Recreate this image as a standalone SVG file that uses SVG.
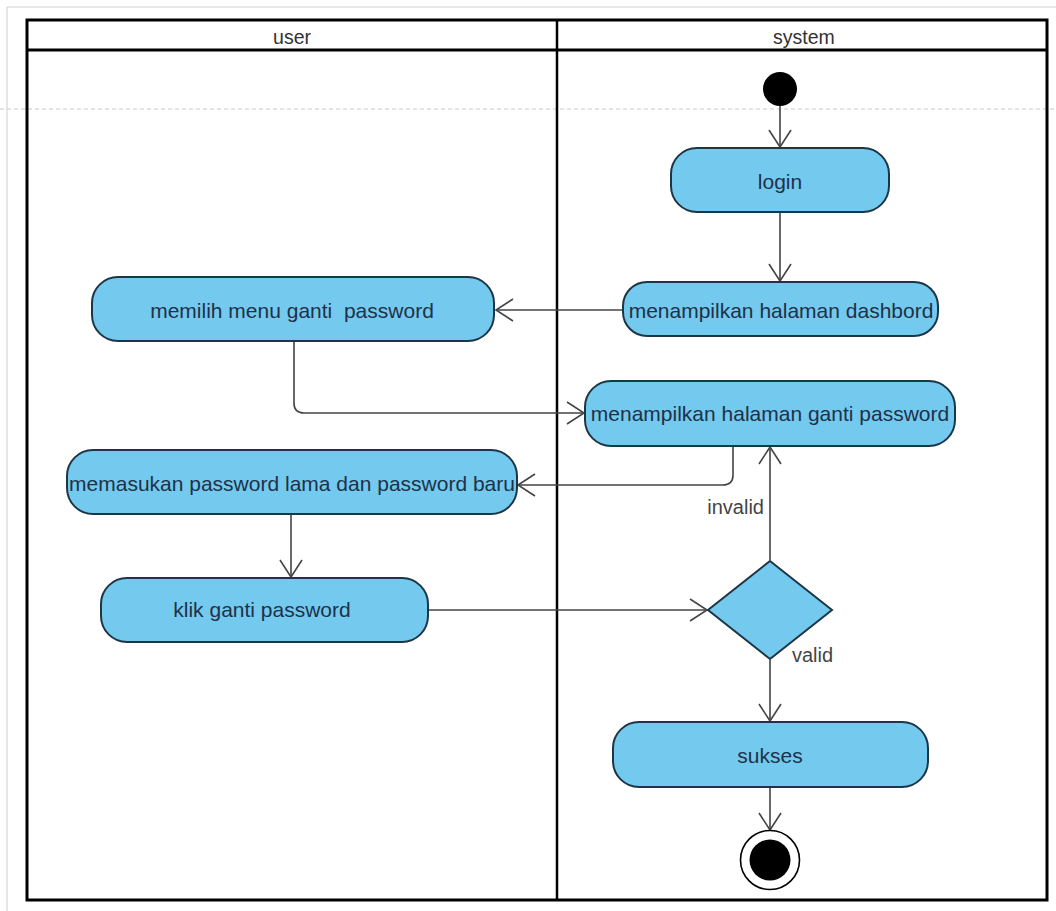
<svg xmlns="http://www.w3.org/2000/svg" width="1056" height="911" viewBox="0 0 1056 911">
<style>
.node{fill:#74C9EF;stroke:#1d3645;stroke-width:2}
.t{font-family:"Liberation Sans",Arial,sans-serif;font-size:21px;fill:#1e3248;text-anchor:middle;dominant-baseline:central}
.h{font-family:"Liberation Sans",Arial,sans-serif;font-size:19.5px;fill:#333;text-anchor:middle;dominant-baseline:central}
.lbl{font-family:"Liberation Sans",Arial,sans-serif;font-size:20px;fill:#444;dominant-baseline:central}
.c{fill:none;stroke:#444;stroke-width:1.6}
</style>
<defs>
<marker id="arr" markerUnits="userSpaceOnUse" markerWidth="20" markerHeight="26" viewBox="0 0 20 26" refX="18" refY="13" orient="auto">
<path d="M1,2 L18,13 L1,24" fill="none" stroke="#444" stroke-width="1.6"/>
</marker>
</defs>
<rect width="1056" height="911" fill="#fff"/>
<g id="frame">
<path d="M7,911 V7 H1056" fill="none" stroke="#d0d0d0" stroke-width="1"/>
<line x1="0" y1="109" x2="1056" y2="109" stroke="#c8c8c8" stroke-width="1" stroke-dasharray="4,3"/>
</g>
<g id="swimlanes">
<rect x="27" y="20" width="1020" height="880" fill="none" stroke="#000" stroke-width="3"/>
<line x1="27" y1="50" x2="1047" y2="50" stroke="#000" stroke-width="3"/>
<line x1="557" y1="20" x2="557" y2="900" stroke="#000" stroke-width="2.5"/>
<text class="h" x="292" y="37">user</text>
<text class="h" x="804" y="37">system</text>
</g>
<g id="connectors">
<line class="c" x1="780" y1="106" x2="780" y2="147" marker-end="url(#arr)"/>
<line class="c" x1="780" y1="212" x2="780" y2="281" marker-end="url(#arr)"/>
<line class="c" x1="623" y1="310" x2="496" y2="310" marker-end="url(#arr)"/>
<path class="c" d="M294,341 V403 Q294,413 304,413 H584" marker-end="url(#arr)"/>
<path class="c" d="M733,446 V475 Q733,485 723,485 H518" marker-end="url(#arr)"/>
<line class="c" x1="291" y1="514" x2="291" y2="577" marker-end="url(#arr)"/>
<line class="c" x1="428" y1="610" x2="707" y2="610" marker-end="url(#arr)"/>
<line class="c" x1="770" y1="560" x2="770" y2="447" marker-end="url(#arr)"/>
<line class="c" x1="770" y1="660" x2="770" y2="721" marker-end="url(#arr)"/>
<line class="c" x1="770" y1="787" x2="770" y2="830" marker-end="url(#arr)"/>
<text class="lbl" x="764" y="507" text-anchor="end">invalid</text>
<text class="lbl" x="792" y="655">valid</text>
</g>
<g id="start"><circle cx="780" cy="89" r="17" fill="#000"/></g>
<g id="login"><rect class="node" x="671" y="148" width="218" height="64" rx="26"/><text class="t" x="780" y="181">login</text></g>
<g id="dashboard"><rect class="node" x="623" y="282" width="315" height="54" rx="24"/><text class="t" x="781" y="310">menampilkan halaman dashbord</text></g>
<g id="memilih"><rect class="node" x="92" y="277" width="402" height="64" rx="26"/><text class="t" x="292" y="310" xml:space="preserve">memilih menu ganti  password</text></g>
<g id="gantiPassword"><rect class="node" x="585" y="381" width="370" height="65" rx="26"/><text class="t" x="770" y="413">menampilkan halaman ganti password</text></g>
<g id="memasukan"><rect class="node" x="67" y="450" width="450" height="64" rx="26"/><text class="t" x="292" y="483">memasukan password lama dan password baru</text></g>
<g id="klik"><rect class="node" x="101" y="578" width="327" height="64" rx="26"/><text class="t" x="262" y="609">klik ganti password</text></g>
<g id="decision"><polygon class="node" points="770,561 832,610 770,659 708,610"/></g>
<g id="sukses"><rect class="node" x="613" y="722" width="315" height="65" rx="26"/><text class="t" x="770" y="755">sukses</text></g>
<g id="end"><circle cx="770" cy="860" r="29.5" fill="#fff" stroke="#000" stroke-width="1.6"/><circle cx="770" cy="860" r="20.5" fill="#000"/></g>
</svg>
